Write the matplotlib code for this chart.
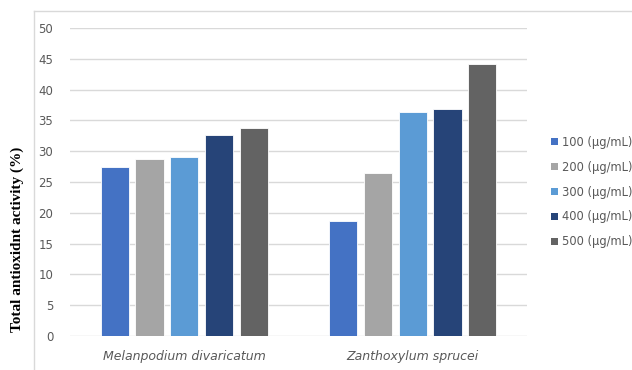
import matplotlib.pyplot as plt
from matplotlib.patches import Patch
from matplotlib.lines import Line2D
import numpy as np

# data
species = ["Melanpodium divaricatum", "Zanthoxylum sprucei"]
doses = ["100 (µg/mL)", "200 (µg/mL)", "300 (µg/mL)", "400 (µg/mL)", "500 (µg/mL)"]
dose_100 = [27.5, 18.7]
dose_200 = [28.8, 26.5]
dose_300 = [29.0, 36.4]
dose_400 = [32.7, 36.9]
dose_500 = [33.7, 44.2]
yticks = [0, 5, 10, 15, 20, 25, 30, 35, 40, 45, 50]

series = [dose_100, dose_200, dose_300, dose_400, dose_500]
colors = ["#4472C4", "#A5A5A5", "#5B9BD5", "#264478", "#636363"]

fig = plt.figure(figsize=(6.32, 3.70), dpi=100)
ax = fig.add_axes([0.1108, 0.0919, 0.7231, 0.8324])

x = np.arange(len(species))
slot = 0.152
width = 0.123
for i, vals in enumerate(series):
    ax.bar(x + (i - 2) * slot, vals, width, color=colors[i], edgecolor="white",
           linewidth=0.6, zorder=3, label=doses[i])

ax.set_xlim(-0.5, 1.5)
ax.set_ylim(0, 50)
ax.set_yticks(yticks)
ax.grid(axis="y", color="#D9D9D9", linewidth=1, zorder=0)
for s in ax.spines.values():
    s.set_visible(False)
ax.tick_params(axis="y", length=0, pad=12, labelsize=8.5, labelcolor="#595959")
ax.tick_params(axis="x", length=0, pad=10, labelsize=9, labelcolor="#595959")
ax.set_xticks(x)
ax.set_xticklabels(species, style="italic")

fig.text(0.027, 0.354, "Total antioxidnt activity (%)", rotation=90, va="center", ha="center",
         fontsize=11, fontweight="bold", family="Liberation Serif")

handles = [Patch(facecolor=c, edgecolor="none") for c in colors]
fig.legend(handles, doses, loc="center left", bbox_to_anchor=(0.864, 0.481), frameon=False,
           fontsize=8.3, labelcolor="#595959", handlelength=0.6, handleheight=0.6,
           handletextpad=0.4, labelspacing=1.03, borderaxespad=0)

# outer chart border
x0 = 34 / 632
y0 = 1 - 11 / 370
fig.add_artist(Line2D([x0, x0], [0, y0], color="#D9D9D9", linewidth=1, transform=fig.transFigure))
fig.add_artist(Line2D([x0, 1], [y0, y0], color="#D9D9D9", linewidth=1, transform=fig.transFigure))

fig.savefig("out.png", dpi=100)
